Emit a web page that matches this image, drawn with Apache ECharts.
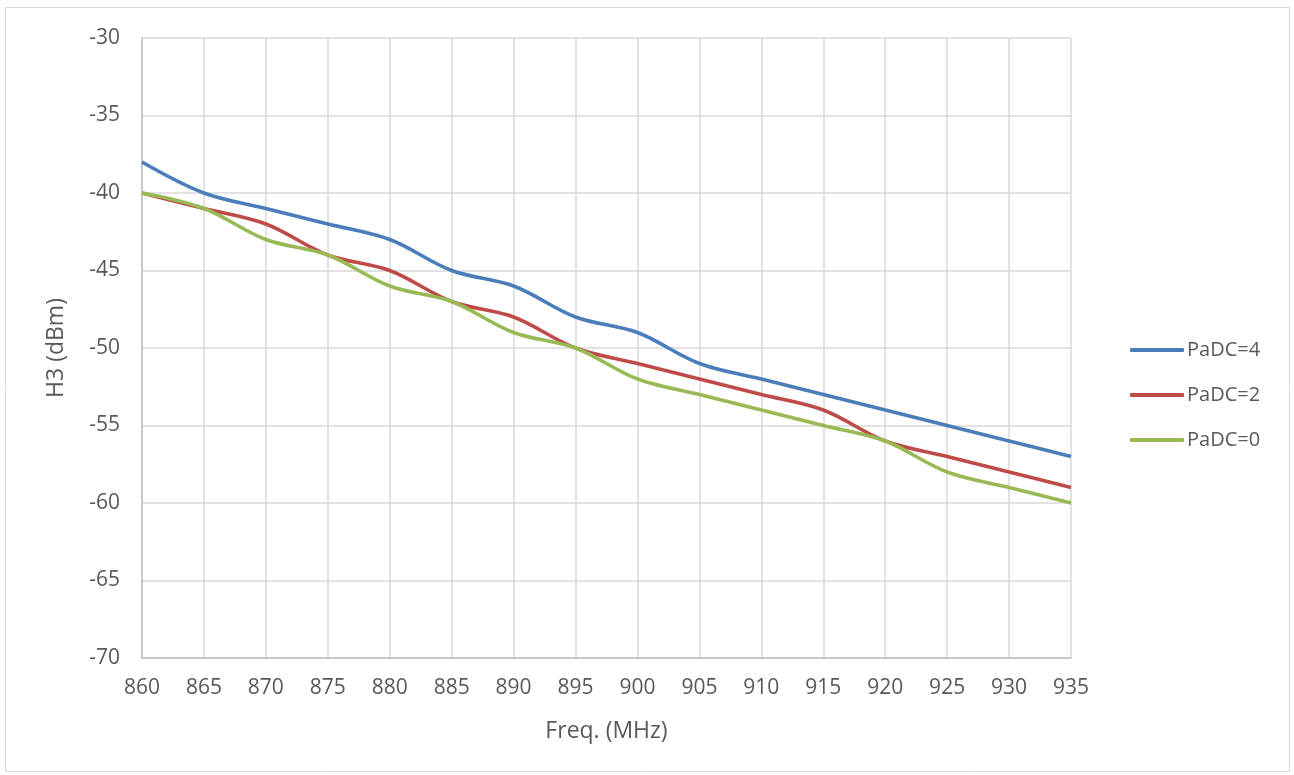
<!DOCTYPE html>
<html>
<head>
<meta charset="utf-8">
<script src="https://cdn.jsdelivr.net/npm/echarts@6/dist/echarts.min.js"></script>
<style>
  html, body { margin: 0; padding: 0; background: #fff; }
  #chart { width: 1294px; height: 775px; }
</style>
</head>
<body>
<div id="chart"></div>
<script>
// frequency points (MHz)
const freqs = [860, 865, 870, 875, 880, 885, 890, 895, 900, 905, 910, 915, 920, 925, 930, 935]
// H3 (dBm) per PaDC setting
const padc4 = [-38, -40, -41, -42, -43, -45, -46, -48, -49, -51, -52, -53, -54, -55, -56, -57]
const padc2 = [-40, -41, -42, -44, -45, -47, -48, -50, -51, -52, -53, -54, -56, -57, -58, -59]
const padc0 = [-40, -41, -43, -44, -46, -47, -49, -50, -52, -53, -54, -55, -56, -58, -59, -60]
const seriesNames = ['PaDC=4', 'PaDC=2', 'PaDC=0']

const font = 'Open Sans, Liberation Sans, sans-serif'
const textColor = '#595959'
const gridColor = '#d9d9d9'

const chart = echarts.init(document.getElementById('chart'))

function pairs(ys) {
  return freqs.map((f, i) => [f, ys[i]])
}

function line(name, ys, color) {
  return {
    name: name,
    type: 'line',
    data: pairs(ys),
    smooth: 0.35,
    showSymbol: false,
    lineStyle: { color: color, width: 3.5 },
    itemStyle: { color: color }
  }
}

const option = {
  backgroundColor: '#fff',
  animation: false,
  graphic: [{
    type: 'rect',
    shape: { x: 5.5, y: 7.5, width: 1284, height: 764 },
    style: { fill: 'none', stroke: '#d9d9d9', lineWidth: 1 },
    silent: true
  }],
  grid: { left: 142, right: 223, top: 38, bottom: 117 },
  legend: {
    orient: 'vertical',
    left: 1125,
    top: 335,
    itemWidth: 54,
    itemHeight: 4,
    itemGap: 25,
    icon: 'roundRect',
    data: seriesNames,
    textStyle: { fontFamily: font, fontSize: 20, color: textColor, padding: [0, 0, 0, -2] }
  },
  xAxis: {
    type: 'value',
    min: 860,
    max: 935,
    interval: 5,
    name: 'Freq. (MHz)',
    nameLocation: 'middle',
    nameGap: 62,
    nameTextStyle: { fontFamily: font, fontSize: 23, color: textColor },
    axisLine: { show: true, onZero: false, lineStyle: { color: '#bfbfbf', width: 1.5 } },
    axisTick: { show: false },
    axisLabel: { fontFamily: font, fontSize: 21, color: textColor, margin: 20 },
    splitLine: { show: true, lineStyle: { color: gridColor, width: 1.5 } }
  },
  yAxis: {
    type: 'value',
    min: -70,
    max: -30,
    interval: 5,
    name: 'H3 (dBm)',
    nameLocation: 'middle',
    nameGap: 74,
    nameTextStyle: { fontFamily: font, fontSize: 23, color: textColor },
    axisLine: { show: true, onZero: false, lineStyle: { color: '#bfbfbf', width: 1.5 } },
    axisTick: { show: false },
    axisLabel: { fontFamily: font, fontSize: 21, color: textColor, margin: 22 },
    splitLine: { show: true, lineStyle: { color: gridColor, width: 1.5 } }
  },
  series: [
    line(seriesNames[0], padc4, '#4a7ebb'),
    line(seriesNames[1], padc2, '#be4b48'),
    line(seriesNames[2], padc0, '#98b954')
  ]
}

chart.setOption(option)
</script>
</body>
</html>
